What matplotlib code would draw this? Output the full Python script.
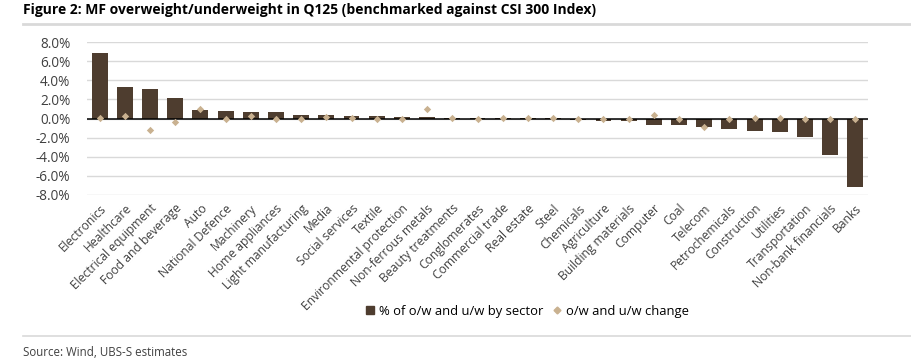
import matplotlib
matplotlib.use("Agg")
import matplotlib.pyplot as plt
from matplotlib.lines import Line2D
from matplotlib.ticker import FuncFormatter, MultipleLocator

plt.rcParams['font.family'] = ['Open Sans', 'DejaVu Sans']

sectors = ["Electronics", "Healthcare", "Electrical equipment", "Food and beverage",
           "Auto", "National Defence", "Machinery", "Home appliances",
           "Light manufacturing", "Media", "Social services", "Textile",
           "Environmental protection", "Non-ferrous metals", "Beauty treatments",
           "Conglomerates", "Commercial trade", "Real estate", "Steel", "Chemicals",
           "Agriculture", "Building materials", "Computer", "Coal", "Telecom",
           "Petrochemicals", "Construction", "Utilities", "Transportation",
           "Non-bank financials", "Banks"]

# % of o/w and u/w by sector
ow_uw = [6.82, 3.33, 3.05, 2.18, 0.89, 0.82, 0.72, 0.70, 0.33, 0.33, 0.30, 0.22,
         0.20, 0.12, 0.08, 0.01, 0.01, 0.01, 0.02, -0.15, -0.25, -0.25, -0.65,
         -0.68, -0.86, -1.13, -1.31, -1.41, -1.97, -3.82, -7.13]

# o/w and u/w change
ow_uw_chg = [0.10, 0.27, -1.20, -0.37, 1.00, -0.10, 0.25, -0.10, -0.10, 0.20, 0.05,
             -0.10, -0.05, 0.95, 0.05, 0.00, 0.10, 0.05, 0.10, -0.05, -0.05, 0.00,
             0.40, -0.10, -0.86, -0.10, 0.10, 0.05, -0.05, -0.05, 0.00]

bar_col = "#4e3d2f"
dot_col = "#c9b190"
txt_col = "#404040"

fig = plt.figure(figsize=(9.11, 3.62), dpi=100)
ax = fig.add_axes([87 / 911, 1 - 195 / 362, 781 / 911, 153 / 362])

x = range(len(sectors))
ax.bar(x, ow_uw, width=0.63, color=bar_col, zorder=2)
ax.scatter(x, ow_uw_chg, marker="D", s=14, color=dot_col, zorder=3, linewidths=0)
ax.axhline(0, color="black", lw=1.1, zorder=2.5)

ax.set_xlim(-0.5, len(sectors) - 0.5)
ax.set_ylim(-8, 8)
ax.yaxis.set_major_locator(MultipleLocator(2))
ax.yaxis.set_major_formatter(FuncFormatter(lambda v, p: f"{v:.1f}%"))
ax.grid(axis="y", color="#d9d9d9", lw=1, zorder=0)
for s in ax.spines.values():
    s.set_visible(False)
ax.tick_params(length=0, colors=txt_col)
ax.tick_params(axis="y", pad=12, labelsize=9.8)
ax.set_xticks(list(x))
ax.set_xticklabels(sectors, rotation=45, ha="right", rotation_mode="anchor", fontsize=8.7)
ax.tick_params(axis="x", pad=5)

handles = [Line2D([], [], marker="s", ls="", color=bar_col, markersize=6),
           Line2D([], [], marker="D", ls="", color=dot_col, markersize=3.5)]
fig.legend(handles, ["% of o/w and u/w by sector", "o/w and u/w change"],
           loc="center", bbox_to_anchor=(527 / 911, 1 - 311 / 362), ncol=2, frameon=False,
           fontsize=9.4, handlelength=0.8, handletextpad=0.3, columnspacing=0.6,
           labelcolor="black")

fig.text(23 / 911, 1 - 10 / 362, "Figure 2: MF overweight/underweight in Q125 (benchmarked against CSI 300 Index)",
         fontsize=10, fontweight="bold", va="center", ha="left", color="black")
fig.add_artist(Line2D([23 / 911, 1], [1 - 24 / 362] * 2, color="#d9d9d9", lw=2))
fig.add_artist(Line2D([23 / 911, 1], [1 - 336 / 362] * 2, color="#d9d9d9", lw=1.2))
fig.text(23 / 911, 1 - 352 / 362, "Source: Wind, UBS-S estimates", fontsize=8.3,
         va="center", ha="left", color=txt_col)

fig.savefig("out.png", dpi=100)
